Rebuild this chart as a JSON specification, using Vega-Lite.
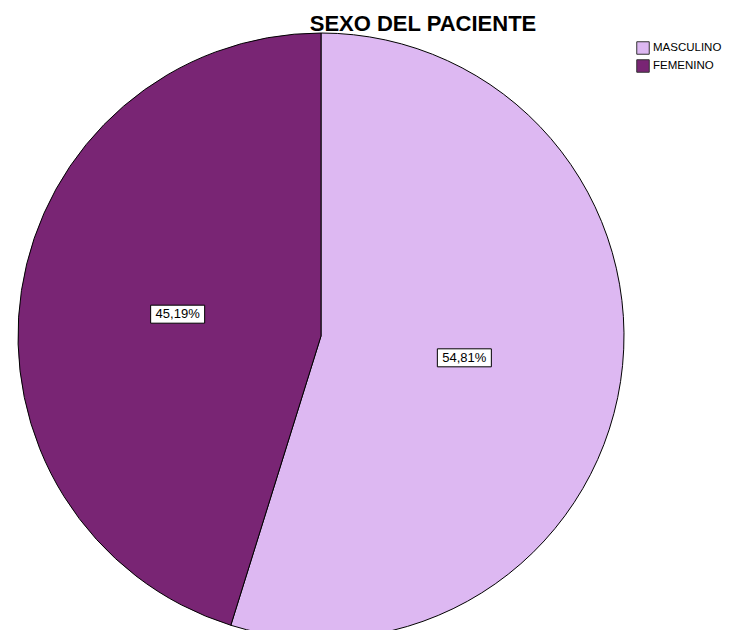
{
  "$schema": "https://vega.github.io/schema/vega-lite/v6.json",
  "width": 642,
  "height": 672,
  "autosize": {"type": "none"},
  "padding": {"left": 0, "top": 0, "right": 93, "bottom": 0},
  "background": "white",
  "title": {
    "text": "SEXO DEL PACIENTE",
    "font": "Liberation Sans",
    "fontSize": 22,
    "fontWeight": "bold",
    "color": "black",
    "anchor": "middle",
    "frame": "group",
    "dx": 102,
    "offset": -36
  },
  "data": {
    "values": [
      {"sexo": "MASCULINO", "pct": 54.81, "orden": 1},
      {"sexo": "FEMENINO", "pct": 45.19, "orden": 2}
    ]
  },
  "transform": [
    {"window": [{"op": "sum", "field": "pct", "as": "cum"}], "sort": [{"field": "orden"}]},
    {"calculate": "(datum.cum - datum.pct / 2) / 100 * 2 * PI", "as": "mid"},
    {"calculate": "145 * sin(datum.mid)", "as": "lx"},
    {"calculate": "145 * cos(datum.mid)", "as": "ly"},
    {"calculate": "replace(format(datum.pct, '.2f'), '.', ',') + '%'", "as": "etiqueta"}
  ],
  "layer": [
    {
      "mark": {"type": "arc", "outerRadius": 303, "stroke": "black", "strokeWidth": 1},
      "encoding": {
        "theta": {"field": "pct", "type": "quantitative", "stack": true},
        "order": {"field": "orden", "type": "quantitative"},
        "color": {
          "field": "sexo",
          "type": "nominal",
          "scale": {"domain": ["MASCULINO", "FEMENINO"], "range": ["#ddb8f2", "#792574"]},
          "legend": {
            "title": null,
            "orient": "none",
            "legendX": 636,
            "legendY": 41,
            "symbolType": "square",
            "symbolSize": 156,
            "symbolStrokeColor": "#333333",
            "symbolStrokeWidth": 1,
            "symbolOpacity": 1,
            "labelFont": "Liberation Sans",
            "labelFontSize": 11.5,
            "labelColor": "black",
            "labelOffset": 3,
            "rowPadding": 0
          }
        }
      }
    },
    {
      "mark": {"type": "point", "shape": "M-3,-1H3V1H-3Z", "size": 324, "filled": true, "fill": "white", "stroke": "black", "strokeWidth": 1, "opacity": 1},
      "encoding": {
        "x": {"field": "lx", "type": "quantitative", "scale": {"domain": [-321, 321]}, "axis": null},
        "y": {"field": "ly", "type": "quantitative", "scale": {"domain": [-336, 336]}, "axis": null}
      }
    },
    {
      "mark": {"type": "text", "font": "Liberation Sans", "fontSize": 13, "color": "black", "align": "center", "baseline": "middle"},
      "encoding": {
        "x": {"field": "lx", "type": "quantitative", "scale": {"domain": [-321, 321]}, "axis": null},
        "y": {"field": "ly", "type": "quantitative", "scale": {"domain": [-336, 336]}, "axis": null},
        "text": {"field": "etiqueta"}
      }
    }
  ],
  "config": {"view": {"stroke": null}}
}
